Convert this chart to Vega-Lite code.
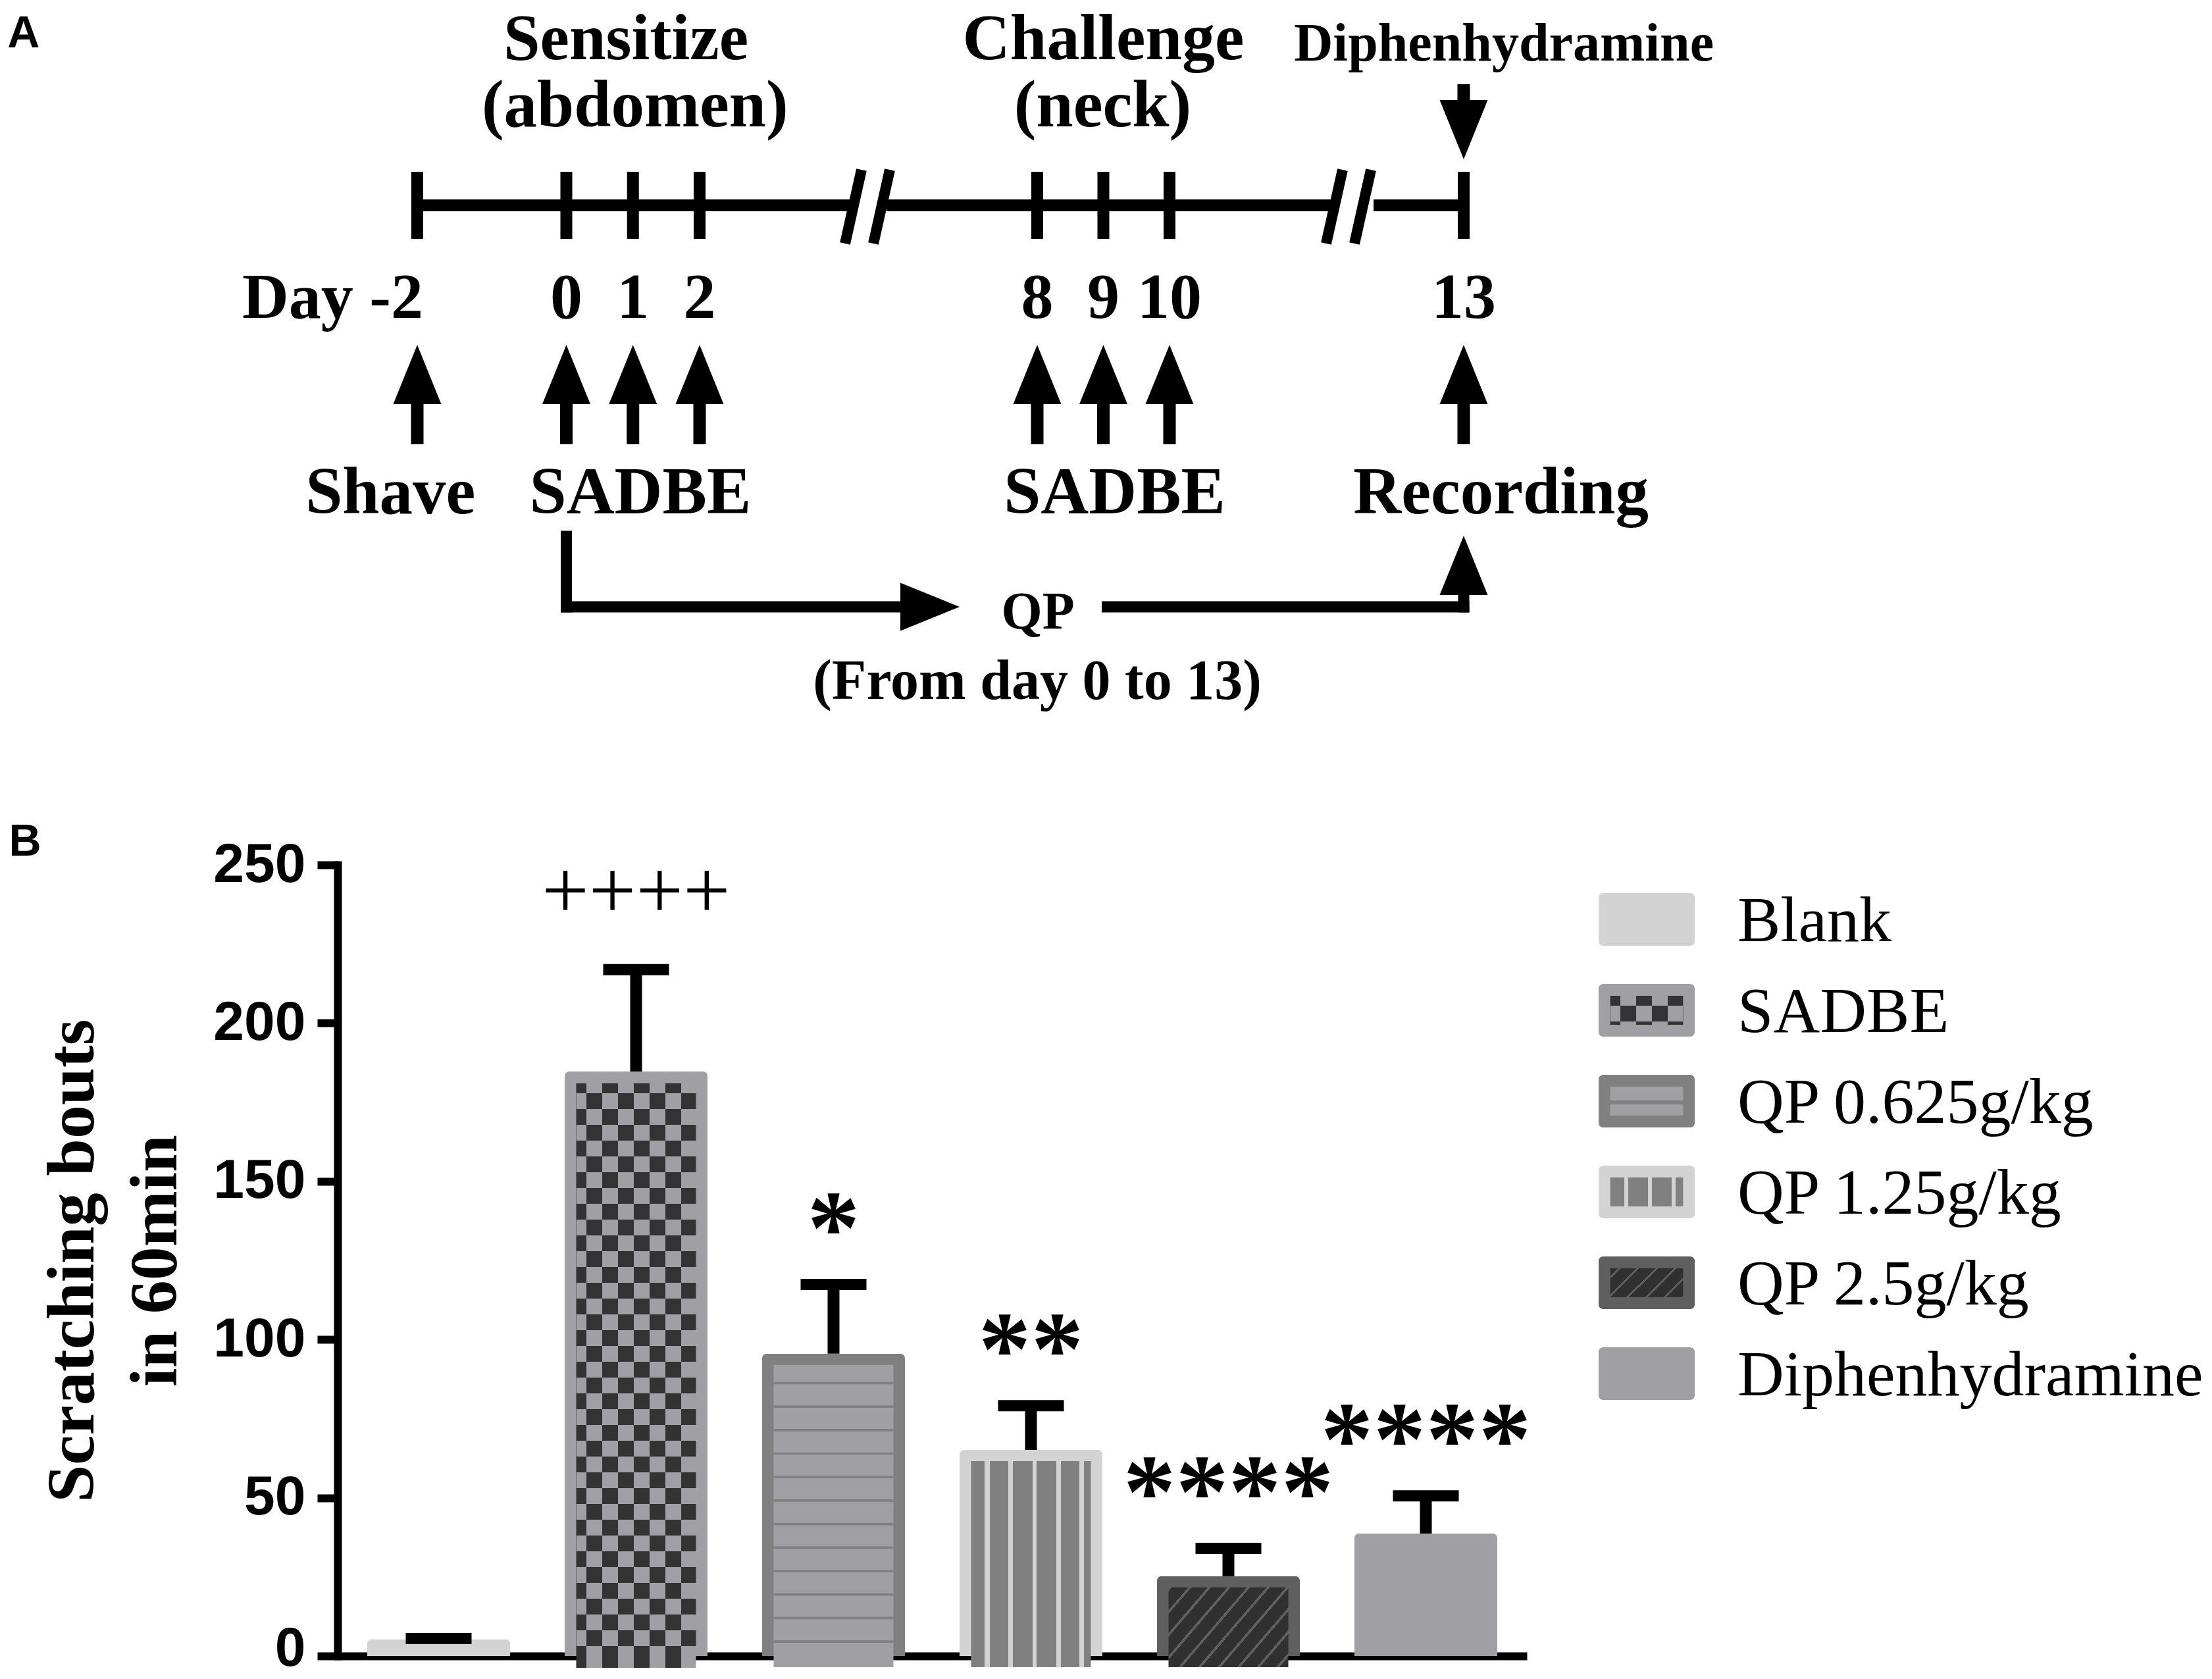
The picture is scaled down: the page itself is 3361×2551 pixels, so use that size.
{
  "$schema": "https://vega.github.io/schema/vega-lite/v6.json",
  "width": 1807,
  "height": 1202,
  "padding": {"left": 513, "top": 1314, "right": 1041, "bottom": 35},
  "autosize": {"type": "none"},
  "background": "white",
  "config": {"view": {"stroke": null}},
  "datasets": {
    "bars": [
      {"group": "Blank", "mean": 5.3, "upper": 5.5, "sig": ""},
      {"group": "SADBE", "mean": 184.7, "upper": 216.9, "sig": "++++"},
      {"group": "QP 0.625g/kg", "mean": 95.5, "upper": 117.4, "sig": "*"},
      {"group": "QP 1.25g/kg", "mean": 65.1, "upper": 79.1, "sig": "**"},
      {"group": "QP 2.5g/kg", "mean": 25.2, "upper": 34.0, "sig": "****"},
      {"group": "Diphenhydramine", "mean": 38.7, "upper": 50.6, "sig": "****"}
    ],
    "days": [
      {"day": -2, "label": "Day -2"},
      {"day": 0, "label": "0"},
      {"day": 1, "label": "1"},
      {"day": 2, "label": "2"},
      {"day": 8, "label": "8"},
      {"day": 9, "label": "9"},
      {"day": 10, "label": "10"},
      {"day": 13, "label": "13"}
    ],
    "timeline": [
      {"from": -2, "to": 4.667},
      {"from": 5.322, "to": 11.685},
      {"from": 12.081, "to": 13}
    ],
    "breaks": [
      {"b": 4.585, "t": 4.877},
      {"b": 5.088, "t": 5.38},
      {"b": 11.597, "t": 11.765},
      {"b": 11.886, "t": 12.054}
    ],
    "bracket": [
      {"from": 0, "to": 5.6},
      {"from": 9.06, "to": 13}
    ],
    "labels": [
      {"role": "title", "label": "Sensitize", "day": 0.894},
      {"role": "title", "label": "Challenge", "day": 9.0},
      {"role": "sub", "label": "(abdomen)", "day": 1.03},
      {"role": "sub", "label": "(neck)", "day": 8.99},
      {"role": "drug", "label": "Diphenhydramine", "day": 13.41},
      {"role": "event", "label": "Shave", "day": -2.36},
      {"role": "event", "label": "SADBE", "day": 1.11},
      {"role": "event", "label": "SADBE", "day": 9.17},
      {"role": "event", "label": "Recording", "day": 13.38},
      {"role": "qp", "label": "QP", "day": 8.01},
      {"role": "qpnote", "label": "(From day 0 to 13)", "day": 8.0},
      {"role": "panelA", "label": "A", "day": -7.5},
      {"role": "panelB", "label": "B", "day": -7.48}
    ]
  },
  "resolve": {"scale": {"x": "independent", "y": "independent", "color": "independent"}},
  "layer": [
    {
      "data": {"name": "bars"},
      "encoding": {
        "x": {
          "field": "group", "type": "nominal", "sort": null,
          "scale": {"domain": ["Blank", "SADBE", "QP 0.625g/kg", "QP 1.25g/kg", "QP 2.5g/kg", "Diphenhydramine"], "range": [0, 1807], "paddingInner": 0.2767, "paddingOuter": 0.15},
          "axis": {"orient": "bottom", "labels": false, "ticks": false, "title": null, "grid": false, "domainColor": "black", "domainWidth": 12}
        },
        "y": {
          "field": "mean", "type": "quantitative",
          "scale": {"domain": [0, 250], "range": [1202, 0], "nice": false, "zero": true},
          "axis": {
            "orient": "left",
            "values": [0, 50, 100, 150, 200, 250], "grid": false,
            "domainColor": "black", "domainWidth": 12, "domainCap": "square",
            "tickColor": "black", "tickSize": 31, "tickWidth": 12,
            "labelFont": "Liberation Sans", "labelFontWeight": "bold", "labelFontSize": 84, "labelColor": "black", "labelPadding": 18,
            "labelOffset": {"condition": {"test": "datum.value === 0", "value": -11}, "value": 0},
            "title": ["Scratching bouts", "in 60min"], "titleFont": "Liberation Serif", "titleFontWeight": "bold", "titleFontSize": 102, "titleLineHeight": 126, "titleColor": "black", "titlePadding": 35
          }
        }
      },
      "layer": [
        {
          "mark": {"type": "bar", "cornerRadiusEnd": 7},
          "encoding": {
            "color": {
              "field": "group", "type": "nominal",
              "scale": {"domain": ["Blank", "SADBE", "QP 0.625g/kg", "QP 1.25g/kg", "QP 2.5g/kg", "Diphenhydramine"], "range": ["#d3d3d3", "#a0a0a4", "#808080", "#d3d3d3", "#5f5f5f", "#a0a0a4"]},
              "legend": null
            }
          }
        },
        {
          "transform": [{"filter": "datum.group == 'SADBE'"}],
          "mark": {"type": "bar", "size": 182, "yOffset": 18, "fill": {"gradient": "linear", "x1": 0, "y1": 0, "x2": 1, "y2": 0, "stops": [
            {"offset": 0, "color": "#333333"}, {"offset": 0.084, "color": "#333333"}, {"offset": 0.084, "color": "#a0a0a4"}, {"offset": 0.2165, "color": "#a0a0a4"},
            {"offset": 0.2165, "color": "#333333"}, {"offset": 0.349, "color": "#333333"}, {"offset": 0.349, "color": "#a0a0a4"}, {"offset": 0.481, "color": "#a0a0a4"},
            {"offset": 0.481, "color": "#333333"}, {"offset": 0.614, "color": "#333333"}, {"offset": 0.614, "color": "#a0a0a4"}, {"offset": 0.746, "color": "#a0a0a4"},
            {"offset": 0.746, "color": "#333333"}, {"offset": 0.879, "color": "#333333"}, {"offset": 0.879, "color": "#a0a0a4"}, {"offset": 1, "color": "#a0a0a4"}]}}
        },
        {
          "transform": [{"filter": "datum.group == 'SADBE'"}],
          "mark": {"type": "rule", "strokeWidth": 182, "yOffset": 18, "color": "#d3d3d7", "strokeDash": [24, 24], "strokeDashOffset": 33, "strokeCap": "butt", "blend": "difference"},
          "encoding": {"y2": {"datum": 0}}
        },
        {
          "transform": [{"filter": "datum.group == 'QP 0.625g/kg'"}],
          "mark": {"type": "bar", "size": 182, "yOffset": 17, "color": "#a0a0a4"}
        },
        {
          "transform": [{"filter": "datum.group == 'QP 0.625g/kg'"}],
          "mark": {"type": "rule", "strokeWidth": 182, "yOffset": 17, "color": "#808080", "strokeDash": [3.7, 32], "strokeDashOffset": 10, "strokeCap": "butt"},
          "encoding": {"y2": {"datum": 0}}
        },
        {
          "transform": [{"filter": "datum.group == 'QP 1.25g/kg'"}],
          "mark": {"type": "bar", "size": 182, "yOffset": 17, "fill": {"gradient": "linear", "x1": 0, "y1": 0, "x2": 1, "y2": 0, "stops": [
            {"offset": 0, "color": "#808080"}, {"offset": 0.111, "color": "#808080"}, {"offset": 0.111, "color": "#d3d3d3"}, {"offset": 0.155, "color": "#d3d3d3"},
            {"offset": 0.155, "color": "#808080"}, {"offset": 0.311, "color": "#808080"}, {"offset": 0.311, "color": "#d3d3d3"}, {"offset": 0.35, "color": "#d3d3d3"},
            {"offset": 0.35, "color": "#808080"}, {"offset": 0.511, "color": "#808080"}, {"offset": 0.511, "color": "#d3d3d3"}, {"offset": 0.549, "color": "#d3d3d3"},
            {"offset": 0.549, "color": "#808080"}, {"offset": 0.71, "color": "#808080"}, {"offset": 0.71, "color": "#d3d3d3"}, {"offset": 0.748, "color": "#d3d3d3"},
            {"offset": 0.748, "color": "#808080"}, {"offset": 0.906, "color": "#808080"}, {"offset": 0.906, "color": "#d3d3d3"}, {"offset": 0.941, "color": "#d3d3d3"},
            {"offset": 0.941, "color": "#808080"}, {"offset": 1, "color": "#808080"}]}}
        },
        {
          "transform": [{"filter": "datum.group == 'QP 2.5g/kg'"}],
          "mark": {"type": "bar", "size": 182, "yOffset": 17, "fill": {"gradient": "linear", "x1": 0, "y1": 0, "x2": 1.185, "y2": 0.677, "stops": [
            {"offset": 0, "color": "#5f5f5f"}, {"offset": 0.0175, "color": "#5f5f5f"}, {"offset": 0.0175, "color": "#303030"}, {"offset": 0.1039, "color": "#303030"},
            {"offset": 0.1039, "color": "#5f5f5f"}, {"offset": 0.1214, "color": "#5f5f5f"}, {"offset": 0.1214, "color": "#303030"}, {"offset": 0.2078, "color": "#303030"},
            {"offset": 0.2078, "color": "#5f5f5f"}, {"offset": 0.2253, "color": "#5f5f5f"}, {"offset": 0.2253, "color": "#303030"}, {"offset": 0.3117, "color": "#303030"},
            {"offset": 0.3117, "color": "#5f5f5f"}, {"offset": 0.3292, "color": "#5f5f5f"}, {"offset": 0.3292, "color": "#303030"}, {"offset": 0.4156, "color": "#303030"},
            {"offset": 0.4156, "color": "#5f5f5f"}, {"offset": 0.4331, "color": "#5f5f5f"}, {"offset": 0.4331, "color": "#303030"}, {"offset": 0.5195, "color": "#303030"},
            {"offset": 0.5195, "color": "#5f5f5f"}, {"offset": 0.537, "color": "#5f5f5f"}, {"offset": 0.537, "color": "#303030"}, {"offset": 0.6234, "color": "#303030"},
            {"offset": 0.6234, "color": "#5f5f5f"}, {"offset": 0.6409, "color": "#5f5f5f"}, {"offset": 0.6409, "color": "#303030"}, {"offset": 0.7273, "color": "#303030"},
            {"offset": 0.7273, "color": "#5f5f5f"}, {"offset": 0.7448, "color": "#5f5f5f"}, {"offset": 0.7448, "color": "#303030"}, {"offset": 0.8312, "color": "#303030"},
            {"offset": 0.8312, "color": "#5f5f5f"}, {"offset": 0.8487, "color": "#5f5f5f"}, {"offset": 0.8487, "color": "#303030"}, {"offset": 0.9351, "color": "#303030"},
            {"offset": 0.9351, "color": "#5f5f5f"}, {"offset": 0.9526, "color": "#5f5f5f"}, {"offset": 0.9526, "color": "#303030"}, {"offset": 1, "color": "#303030"}]}}
        },
        {
          "mark": {"type": "rule", "strokeWidth": 18, "color": "black"},
          "encoding": {"y2": {"field": "upper"}}
        },
        {
          "mark": {"type": "tick", "size": 100, "thickness": 17, "color": "black", "opacity": 1},
          "encoding": {"y": {"field": "upper", "type": "quantitative"}}
        },
        {
          "transform": [{"filter": "datum.sig != '' && datum.sig != '++++'"}],
          "mark": {"type": "text", "font": "Liberation Serif", "fontWeight": "bold", "fontSize": 160, "align": "center", "baseline": "alphabetic", "dy": -32, "color": "black"},
          "encoding": {
            "y": {"field": "upper", "type": "quantitative"},
            "text": {"field": "sig"}
          }
        },
        {
          "transform": [{"filter": "datum.sig == '++++'"}],
          "mark": {"type": "text", "font": "Liberation Serif", "fontSize": 127, "align": "center", "baseline": "alphabetic", "dy": -78, "color": "black"},
          "encoding": {
            "y": {"field": "upper", "type": "quantitative"},
            "text": {"field": "sig"}
          }
        }
      ]
    },
    {
      "layer": [
        {
          "data": {"name": "days"},
          "mark": {"type": "rule", "strokeWidth": 18, "color": "black"},
          "encoding": {
            "x": {"field": "day", "type": "quantitative", "scale": {"type": "linear", "domain": [-2, 0, 2, 8, 10, 13], "range": [121, 347.5, 550, 1063, 1264, 1711], "zero": false, "nice": false}, "axis": null},
            "y": {"datum": 261, "type": "quantitative", "scale": {"type": "linear", "domain": [0, 2551], "range": [-1314, 1237], "zero": false, "nice": false}, "axis": null},
            "y2": {"datum": 363}
          }
        },
        {
          "data": {"name": "timeline"},
          "mark": {"type": "rule", "strokeWidth": 18, "color": "black"},
          "encoding": {
            "x": {"field": "from", "type": "quantitative", "scale": {"type": "linear", "domain": [-2, 0, 2, 8, 10, 13], "range": [121, 347.5, 550, 1063, 1264, 1711], "zero": false, "nice": false}, "axis": null},
            "x2": {"field": "to"},
            "y": {"datum": 312, "type": "quantitative", "scale": {"type": "linear", "domain": [0, 2551], "range": [-1314, 1237], "zero": false, "nice": false}, "axis": null}
          }
        },
        {
          "data": {"name": "breaks"},
          "mark": {"type": "rule", "strokeWidth": 16, "color": "black"},
          "encoding": {
            "x": {"field": "b", "type": "quantitative", "scale": {"type": "linear", "domain": [-2, 0, 2, 8, 10, 13], "range": [121, 347.5, 550, 1063, 1264, 1711], "zero": false, "nice": false}, "axis": null},
            "x2": {"field": "t"},
            "y": {"datum": 370, "type": "quantitative", "scale": {"type": "linear", "domain": [0, 2551], "range": [-1314, 1237], "zero": false, "nice": false}, "axis": null},
            "y2": {"datum": 258}
          }
        },
        {
          "data": {"name": "days"},
          "mark": {"type": "rule", "strokeWidth": 19, "color": "black"},
          "encoding": {
            "x": {"field": "day", "type": "quantitative", "scale": {"type": "linear", "domain": [-2, 0, 2, 8, 10, 13], "range": [121, 347.5, 550, 1063, 1264, 1711], "zero": false, "nice": false}, "axis": null},
            "y": {"datum": 606, "type": "quantitative", "scale": {"type": "linear", "domain": [0, 2551], "range": [-1314, 1237], "zero": false, "nice": false}, "axis": null},
            "y2": {"datum": 675}
          }
        },
        {
          "data": {"name": "days"},
          "mark": {"type": "point", "shape": "M0,-1L0.811,1L-0.811,1Z", "size": 8100, "filled": true, "color": "black", "opacity": 1, "strokeWidth": 0},
          "encoding": {
            "x": {"field": "day", "type": "quantitative", "scale": {"type": "linear", "domain": [-2, 0, 2, 8, 10, 13], "range": [121, 347.5, 550, 1063, 1264, 1711], "zero": false, "nice": false}, "axis": null},
            "y": {"datum": 569, "type": "quantitative", "scale": {"type": "linear", "domain": [0, 2551], "range": [-1314, 1237], "zero": false, "nice": false}, "axis": null}
          }
        },
        {
          "data": {"name": "days"},
          "transform": [{"filter": "datum.day == 13"}],
          "mark": {"type": "rule", "strokeWidth": 19, "color": "black"},
          "encoding": {
            "x": {"field": "day", "type": "quantitative", "scale": {"type": "linear", "domain": [-2, 0, 2, 8, 10, 13], "range": [121, 347.5, 550, 1063, 1264, 1711], "zero": false, "nice": false}, "axis": null},
            "y": {"datum": 128, "type": "quantitative", "scale": {"type": "linear", "domain": [0, 2551], "range": [-1314, 1237], "zero": false, "nice": false}, "axis": null},
            "y2": {"datum": 160}
          }
        },
        {
          "data": {"name": "days"},
          "transform": [{"filter": "datum.day == 13"}],
          "mark": {"type": "point", "shape": "M0,1L0.811,-1L-0.811,-1Z", "size": 8100, "filled": true, "color": "black", "opacity": 1, "strokeWidth": 0},
          "encoding": {
            "x": {"field": "day", "type": "quantitative", "scale": {"type": "linear", "domain": [-2, 0, 2, 8, 10, 13], "range": [121, 347.5, 550, 1063, 1264, 1711], "zero": false, "nice": false}, "axis": null},
            "y": {"datum": 197, "type": "quantitative", "scale": {"type": "linear", "domain": [0, 2551], "range": [-1314, 1237], "zero": false, "nice": false}, "axis": null}
          }
        },
        {
          "data": {"name": "bracket"},
          "mark": {"type": "rule", "strokeWidth": 17, "color": "black", "strokeCap": "square"},
          "encoding": {
            "x": {"field": "from", "type": "quantitative", "scale": {"type": "linear", "domain": [-2, 0, 2, 8, 10, 13], "range": [121, 347.5, 550, 1063, 1264, 1711], "zero": false, "nice": false}, "axis": null},
            "x2": {"field": "to"},
            "y": {"datum": 922, "type": "quantitative", "scale": {"type": "linear", "domain": [0, 2551], "range": [-1314, 1237], "zero": false, "nice": false}, "axis": null}
          }
        },
        {
          "data": {"name": "days"},
          "transform": [{"filter": "datum.day == 0"}],
          "mark": {"type": "rule", "strokeWidth": 17, "color": "black", "strokeCap": "square"},
          "encoding": {
            "x": {"field": "day", "type": "quantitative", "scale": {"type": "linear", "domain": [-2, 0, 2, 8, 10, 13], "range": [121, 347.5, 550, 1063, 1264, 1711], "zero": false, "nice": false}, "axis": null},
            "y": {"datum": 815, "type": "quantitative", "scale": {"type": "linear", "domain": [0, 2551], "range": [-1314, 1237], "zero": false, "nice": false}, "axis": null},
            "y2": {"datum": 922}
          }
        },
        {
          "data": {"name": "days"},
          "transform": [{"filter": "datum.day == 13"}],
          "mark": {"type": "rule", "strokeWidth": 17, "color": "black", "strokeCap": "square"},
          "encoding": {
            "x": {"field": "day", "type": "quantitative", "scale": {"type": "linear", "domain": [-2, 0, 2, 8, 10, 13], "range": [121, 347.5, 550, 1063, 1264, 1711], "zero": false, "nice": false}, "axis": null},
            "y": {"datum": 922, "type": "quantitative", "scale": {"type": "linear", "domain": [0, 2551], "range": [-1314, 1237], "zero": false, "nice": false}, "axis": null},
            "y2": {"datum": 905}
          }
        },
        {
          "data": {"name": "days"},
          "transform": [{"filter": "datum.day == 13"}],
          "mark": {"type": "point", "shape": "M0,-1L0.811,1L-0.811,1Z", "size": 8100, "filled": true, "color": "black", "opacity": 1, "strokeWidth": 0},
          "encoding": {
            "x": {"field": "day", "type": "quantitative", "scale": {"type": "linear", "domain": [-2, 0, 2, 8, 10, 13], "range": [121, 347.5, 550, 1063, 1264, 1711], "zero": false, "nice": false}, "axis": null},
            "y": {"datum": 859, "type": "quantitative", "scale": {"type": "linear", "domain": [0, 2551], "range": [-1314, 1237], "zero": false, "nice": false}, "axis": null}
          }
        },
        {
          "data": {"name": "bracket"},
          "transform": [{"filter": "datum.from == 0"}],
          "mark": {"type": "point", "shape": "M1,0L-1,0.811L-1,-0.811Z", "size": 8100, "filled": true, "color": "black", "opacity": 1, "strokeWidth": 0},
          "encoding": {
            "x": {"datum": 6.094, "type": "quantitative", "scale": {"type": "linear", "domain": [-2, 0, 2, 8, 10, 13], "range": [121, 347.5, 550, 1063, 1264, 1711], "zero": false, "nice": false}, "axis": null},
            "y": {"datum": 922, "type": "quantitative", "scale": {"type": "linear", "domain": [0, 2551], "range": [-1314, 1237], "zero": false, "nice": false}, "axis": null}
          }
        },
        {
          "data": {"name": "days"},
          "transform": [{"filter": "datum.day != -2"}],
          "mark": {"type": "text", "font": "Liberation Serif", "fontWeight": "bold", "fontSize": 98, "align": "center", "baseline": "alphabetic", "color": "black"},
          "encoding": {
            "x": {"field": "day", "type": "quantitative", "scale": {"type": "linear", "domain": [-2, 0, 2, 8, 10, 13], "range": [121, 347.5, 550, 1063, 1264, 1711], "zero": false, "nice": false}, "axis": null},
            "y": {"datum": 483, "type": "quantitative", "scale": {"type": "linear", "domain": [0, 2551], "range": [-1314, 1237], "zero": false, "nice": false}, "axis": null},
            "text": {"field": "label"}
          }
        },
        {
          "data": {"name": "days"},
          "transform": [{"filter": "datum.day == -2"}],
          "mark": {"type": "text", "font": "Liberation Serif", "fontWeight": "bold", "fontSize": 98, "align": "right", "dx": 9, "baseline": "alphabetic", "color": "black"},
          "encoding": {
            "x": {"field": "day", "type": "quantitative", "scale": {"type": "linear", "domain": [-2, 0, 2, 8, 10, 13], "range": [121, 347.5, 550, 1063, 1264, 1711], "zero": false, "nice": false}, "axis": null},
            "y": {"datum": 483, "type": "quantitative", "scale": {"type": "linear", "domain": [0, 2551], "range": [-1314, 1237], "zero": false, "nice": false}, "axis": null},
            "text": {"field": "label"}
          }
        },
        {
          "data": {"name": "labels"},
          "transform": [{"filter": "datum.role == 'title'"}],
          "mark": {"type": "text", "font": "Liberation Serif", "fontWeight": "bold", "fontSize": 100, "align": "center", "baseline": "alphabetic", "color": "black"},
          "encoding": {
            "x": {"field": "day", "type": "quantitative", "scale": {"type": "linear", "domain": [-2, 0, 2, 8, 10, 13], "range": [121, 347.5, 550, 1063, 1264, 1711], "zero": false, "nice": false}, "axis": null},
            "y": {"datum": 90, "type": "quantitative", "scale": {"type": "linear", "domain": [0, 2551], "range": [-1314, 1237], "zero": false, "nice": false}, "axis": null},
            "text": {"field": "label"}
          }
        },
        {
          "data": {"name": "labels"},
          "transform": [{"filter": "datum.role == 'sub'"}],
          "mark": {"type": "text", "font": "Liberation Serif", "fontWeight": "bold", "fontSize": 101, "align": "center", "baseline": "alphabetic", "color": "black"},
          "encoding": {
            "x": {"field": "day", "type": "quantitative", "scale": {"type": "linear", "domain": [-2, 0, 2, 8, 10, 13], "range": [121, 347.5, 550, 1063, 1264, 1711], "zero": false, "nice": false}, "axis": null},
            "y": {"datum": 192, "type": "quantitative", "scale": {"type": "linear", "domain": [0, 2551], "range": [-1314, 1237], "zero": false, "nice": false}, "axis": null},
            "text": {"field": "label"}
          }
        },
        {
          "data": {"name": "labels"},
          "transform": [{"filter": "datum.role == 'drug'"}],
          "mark": {"type": "text", "font": "Liberation Serif", "fontWeight": "bold", "fontSize": 82, "align": "center", "baseline": "alphabetic", "color": "black"},
          "encoding": {
            "x": {"field": "day", "type": "quantitative", "scale": {"type": "linear", "domain": [-2, 0, 2, 8, 10, 13], "range": [121, 347.5, 550, 1063, 1264, 1711], "zero": false, "nice": false}, "axis": null},
            "y": {"datum": 92, "type": "quantitative", "scale": {"type": "linear", "domain": [0, 2551], "range": [-1314, 1237], "zero": false, "nice": false}, "axis": null},
            "text": {"field": "label"}
          }
        },
        {
          "data": {"name": "labels"},
          "transform": [{"filter": "datum.role == 'event'"}],
          "mark": {"type": "text", "font": "Liberation Serif", "fontWeight": "bold", "fontSize": 101, "align": "center", "baseline": "alphabetic", "color": "black"},
          "encoding": {
            "x": {"field": "day", "type": "quantitative", "scale": {"type": "linear", "domain": [-2, 0, 2, 8, 10, 13], "range": [121, 347.5, 550, 1063, 1264, 1711], "zero": false, "nice": false}, "axis": null},
            "y": {"datum": 780, "type": "quantitative", "scale": {"type": "linear", "domain": [0, 2551], "range": [-1314, 1237], "zero": false, "nice": false}, "axis": null},
            "text": {"field": "label"}
          }
        },
        {
          "data": {"name": "labels"},
          "transform": [{"filter": "datum.role == 'qp'"}],
          "mark": {"type": "text", "font": "Liberation Serif", "fontWeight": "bold", "fontSize": 80, "align": "center", "baseline": "alphabetic", "color": "black"},
          "encoding": {
            "x": {"field": "day", "type": "quantitative", "scale": {"type": "linear", "domain": [-2, 0, 2, 8, 10, 13], "range": [121, 347.5, 550, 1063, 1264, 1711], "zero": false, "nice": false}, "axis": null},
            "y": {"datum": 955, "type": "quantitative", "scale": {"type": "linear", "domain": [0, 2551], "range": [-1314, 1237], "zero": false, "nice": false}, "axis": null},
            "text": {"field": "label"}
          }
        },
        {
          "data": {"name": "labels"},
          "transform": [{"filter": "datum.role == 'qpnote'"}],
          "mark": {"type": "text", "font": "Liberation Serif", "fontWeight": "bold", "fontSize": 86, "align": "center", "baseline": "alphabetic", "color": "black"},
          "encoding": {
            "x": {"field": "day", "type": "quantitative", "scale": {"type": "linear", "domain": [-2, 0, 2, 8, 10, 13], "range": [121, 347.5, 550, 1063, 1264, 1711], "zero": false, "nice": false}, "axis": null},
            "y": {"datum": 1062, "type": "quantitative", "scale": {"type": "linear", "domain": [0, 2551], "range": [-1314, 1237], "zero": false, "nice": false}, "axis": null},
            "text": {"field": "label"}
          }
        },
        {
          "data": {"name": "labels"},
          "transform": [{"filter": "datum.role == 'panelA'"}],
          "mark": {"type": "text", "font": "Liberation Sans", "fontWeight": "bold", "fontSize": 68, "align": "left", "baseline": "alphabetic", "color": "black"},
          "encoding": {
            "x": {"field": "day", "type": "quantitative", "scale": {"type": "linear", "domain": [-2, 0, 2, 8, 10, 13], "range": [121, 347.5, 550, 1063, 1264, 1711], "zero": false, "nice": false}, "axis": null},
            "y": {"datum": 72, "type": "quantitative", "scale": {"type": "linear", "domain": [0, 2551], "range": [-1314, 1237], "zero": false, "nice": false}, "axis": null},
            "text": {"field": "label"}
          }
        },
        {
          "data": {"name": "labels"},
          "transform": [{"filter": "datum.role == 'panelB'"}],
          "mark": {"type": "text", "font": "Liberation Sans", "fontWeight": "bold", "fontSize": 68, "align": "left", "baseline": "alphabetic", "color": "black"},
          "encoding": {
            "x": {"field": "day", "type": "quantitative", "scale": {"type": "linear", "domain": [-2, 0, 2, 8, 10, 13], "range": [121, 347.5, 550, 1063, 1264, 1711], "zero": false, "nice": false}, "axis": null},
            "y": {"datum": 1300, "type": "quantitative", "scale": {"type": "linear", "domain": [0, 2551], "range": [-1314, 1237], "zero": false, "nice": false}, "axis": null},
            "text": {"field": "label"}
          }
        }
      ]
    },
    {
      "data": {"name": "bars"},
      "encoding": {
        "y": {"field": "group", "type": "nominal", "sort": null, "scale": {"type": "point", "domain": ["Blank", "SADBE", "QP 0.625g/kg", "QP 1.25g/kg", "QP 2.5g/kg", "Diphenhydramine"], "range": [83, 773], "padding": 0}, "axis": null}
      },
      "layer": [
        {
          "mark": {"type": "bar", "height": 80, "cornerRadius": 7},
          "encoding": {
            "x": {"datum": 0, "type": "quantitative", "scale": {"domain": [0, 1], "range": [1916, 2062], "zero": false, "nice": false}, "axis": null},
            "x2": {"datum": 1},
            "color": {
              "field": "group", "type": "nominal",
              "scale": {"domain": ["Blank", "SADBE", "QP 0.625g/kg", "QP 1.25g/kg", "QP 2.5g/kg", "Diphenhydramine"], "range": ["#d3d3d3", "#a0a0a4", "#808080", "#d3d3d3", "#5f5f5f", "#a0a0a4"]},
              "legend": null
            }
          }
        },
        {
          "transform": [{"filter": "datum.group == 'SADBE'"}],
          "mark": {"type": "bar", "height": 44, "fill": {"gradient": "linear", "x1": 0, "y1": 0, "x2": 1, "y2": 0, "stops": [
            {"offset": 0, "color": "#333333"}, {"offset": 0.1356, "color": "#333333"}, {"offset": 0.1356, "color": "#a0a0a4"}, {"offset": 0.355, "color": "#a0a0a4"},
            {"offset": 0.355, "color": "#333333"}, {"offset": 0.572, "color": "#333333"}, {"offset": 0.572, "color": "#a0a0a4"}, {"offset": 0.789, "color": "#a0a0a4"},
            {"offset": 0.789, "color": "#333333"}, {"offset": 1, "color": "#333333"}]}},
          "encoding": {
            "x": {"datum": 0.121, "type": "quantitative", "scale": {"domain": [0, 1], "range": [1916, 2062], "zero": false, "nice": false}, "axis": null},
            "x2": {"datum": 0.879}
          }
        },
        {
          "transform": [{"filter": "datum.group == 'SADBE'"}],
          "mark": {"type": "bar", "height": 44, "blend": "difference", "fill": {"gradient": "linear", "x1": 0, "y1": 0, "x2": 0, "y2": 1, "stops": [
            {"offset": 0, "color": "#000000"}, {"offset": 0.33, "color": "#000000"}, {"offset": 0.33, "color": "#d3d3d7"}, {"offset": 0.897, "color": "#d3d3d7"},
            {"offset": 0.897, "color": "#000000"}, {"offset": 1, "color": "#000000"}]}},
          "encoding": {
            "x": {"datum": 0.121, "type": "quantitative", "scale": {"domain": [0, 1], "range": [1916, 2062], "zero": false, "nice": false}, "axis": null},
            "x2": {"datum": 0.879}
          }
        },
        {
          "transform": [{"filter": "datum.group == 'QP 0.625g/kg'"}],
          "mark": {"type": "bar", "height": 44, "fill": {"gradient": "linear", "x1": 0, "y1": 0, "x2": 0, "y2": 1, "stops": [
            {"offset": 0, "color": "#a0a0a4"}, {"offset": 0.48, "color": "#a0a0a4"}, {"offset": 0.48, "color": "#808080"}, {"offset": 0.616, "color": "#808080"},
            {"offset": 0.616, "color": "#a0a0a4"}, {"offset": 1, "color": "#a0a0a4"}]}},
          "encoding": {
            "x": {"datum": 0.121, "type": "quantitative", "scale": {"domain": [0, 1], "range": [1916, 2062], "zero": false, "nice": false}, "axis": null},
            "x2": {"datum": 0.879}
          }
        },
        {
          "transform": [{"filter": "datum.group == 'QP 1.25g/kg'"}],
          "mark": {"type": "bar", "height": 44, "fill": {"gradient": "linear", "x1": 0, "y1": 0, "x2": 1, "y2": 0, "stops": [
            {"offset": 0, "color": "#808080"}, {"offset": 0.19, "color": "#808080"}, {"offset": 0.19, "color": "#d3d3d3"}, {"offset": 0.247, "color": "#d3d3d3"},
            {"offset": 0.247, "color": "#808080"}, {"offset": 0.515, "color": "#808080"}, {"offset": 0.515, "color": "#d3d3d3"}, {"offset": 0.572, "color": "#d3d3d3"},
            {"offset": 0.572, "color": "#808080"}, {"offset": 0.843, "color": "#808080"}, {"offset": 0.843, "color": "#d3d3d3"}, {"offset": 0.898, "color": "#d3d3d3"},
            {"offset": 0.898, "color": "#808080"}, {"offset": 1, "color": "#808080"}]}},
          "encoding": {
            "x": {"datum": 0.121, "type": "quantitative", "scale": {"domain": [0, 1], "range": [1916, 2062], "zero": false, "nice": false}, "axis": null},
            "x2": {"datum": 0.879}
          }
        },
        {
          "transform": [{"filter": "datum.group == 'QP 2.5g/kg'"}],
          "mark": {"type": "bar", "height": 44, "fill": {"gradient": "linear", "x1": 0, "y1": 0, "x2": 1.207, "y2": 0.483, "stops": [
            {"offset": 0, "color": "#303030"}, {"offset": 0.078, "color": "#303030"}, {"offset": 0.078, "color": "#5f5f5f"}, {"offset": 0.104, "color": "#5f5f5f"},
            {"offset": 0.104, "color": "#303030"}, {"offset": 0.26, "color": "#303030"}, {"offset": 0.26, "color": "#5f5f5f"}, {"offset": 0.286, "color": "#5f5f5f"},
            {"offset": 0.286, "color": "#303030"}, {"offset": 0.442, "color": "#303030"}, {"offset": 0.442, "color": "#5f5f5f"}, {"offset": 0.468, "color": "#5f5f5f"},
            {"offset": 0.468, "color": "#303030"}, {"offset": 0.624, "color": "#303030"}, {"offset": 0.624, "color": "#5f5f5f"}, {"offset": 0.65, "color": "#5f5f5f"},
            {"offset": 0.65, "color": "#303030"}, {"offset": 0.806, "color": "#303030"}, {"offset": 0.806, "color": "#5f5f5f"}, {"offset": 0.832, "color": "#5f5f5f"},
            {"offset": 0.832, "color": "#303030"}, {"offset": 0.988, "color": "#303030"}, {"offset": 0.988, "color": "#5f5f5f"}, {"offset": 1, "color": "#5f5f5f"}]}},
          "encoding": {
            "x": {"datum": 0.121, "type": "quantitative", "scale": {"domain": [0, 1], "range": [1916, 2062], "zero": false, "nice": false}, "axis": null},
            "x2": {"datum": 0.879}
          }
        },
        {
          "mark": {"type": "text", "font": "Liberation Serif", "fontSize": 98, "align": "left", "baseline": "alphabetic", "dy": 33, "color": "black"},
          "encoding": {
            "x": {"datum": 1.445, "type": "quantitative", "scale": {"domain": [0, 1], "range": [1916, 2062], "zero": false, "nice": false}, "axis": null},
            "text": {"field": "group"}
          }
        }
      ]
    }
  ]
}
